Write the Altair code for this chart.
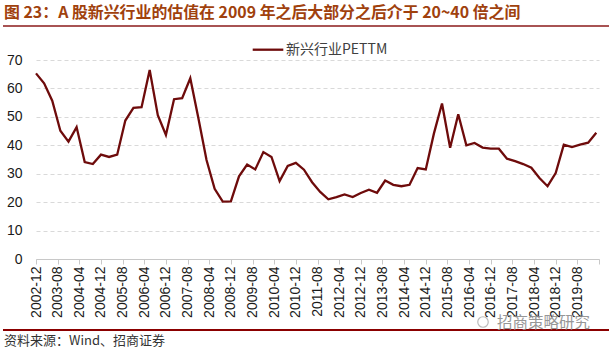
import altair as alt
import pandas as pd

# ---------------- data ----------------
# quarterly observations from 2002-12 to 2020-03
dates = [
    "2002-12",
    "2003-03", "2003-06", "2003-09", "2003-12",
    "2004-03", "2004-06", "2004-09", "2004-12",
    "2005-03", "2005-06", "2005-09", "2005-12",
    "2006-03", "2006-06", "2006-09", "2006-12",
    "2007-03", "2007-06", "2007-09", "2007-12",
    "2008-03", "2008-06", "2008-09", "2008-12",
    "2009-03", "2009-06", "2009-09", "2009-12",
    "2010-03", "2010-06", "2010-09", "2010-12",
    "2011-03", "2011-06", "2011-09", "2011-12",
    "2012-03", "2012-06", "2012-09", "2012-12",
    "2013-03", "2013-06", "2013-09", "2013-12",
    "2014-03", "2014-06", "2014-09", "2014-12",
    "2015-03", "2015-06", "2015-09", "2015-12",
    "2016-03", "2016-06", "2016-09", "2016-12",
    "2017-03", "2017-06", "2017-09", "2017-12",
    "2018-03", "2018-06", "2018-09", "2018-12",
    "2019-03", "2019-06", "2019-09", "2019-12",
    "2020-03",
]
pe_ttm = [
    65.3,
    61.8, 55.7, 45.1, 41.3,
    46.4, 34.1, 33.4, 36.7,
    35.9, 36.7, 48.7, 53.2,
    53.4, 66.5, 50.6, 43.6,
    56.2, 56.6, 63.6, 49.5,
    34.8, 24.7, 20.2, 20.3,
    29.1, 33.2, 31.5, 37.6,
    35.9, 27.4, 32.7, 33.8,
    31.4, 27.0, 23.6, 21.0,
    21.8, 22.7, 21.8, 23.2,
    24.4, 23.3, 27.6, 26.1,
    25.6, 26.1, 32.0, 31.5,
    44.1, 54.7, 39.1, 50.9,
    40.0, 40.8, 39.2, 38.8,
    38.8, 35.3, 34.4, 33.4,
    32.1, 28.5, 25.6, 30.2,
    40.2, 39.4, 40.2, 40.9,
    44.4,
]
tick_labels = [
    "2002-12", "2003-08", "2004-04", "2004-12", "2005-08", "2006-04",
    "2006-12", "2007-08", "2008-04", "2008-12", "2009-08", "2010-04",
    "2010-12", "2011-08", "2012-04", "2012-12", "2013-08", "2014-04",
    "2014-12", "2015-08", "2016-04", "2016-12", "2017-08", "2018-04",
    "2018-12", "2019-08",
]
y_ticks = [0, 10, 20, 30, 40, 50, 60, 70]

series_name = "新兴行业PETTM"
title_text = "图 23：A 股新兴行业的估值在 2009 年之后大部分之后介于 20~40 倍之间"
source_text = "资料来源：Wind、招商证券"
watermark_text = "招商策略研究"


def month_index(s):
    y, m = s.split("-")
    return (int(y) - 2002) * 12 + int(m) - 12


df = pd.DataFrame({"date": dates, "pe": pe_ttm})
df["m"] = [month_index(d) for d in dates]

tick_vals = [month_index(t) for t in tick_labels] + [208]
arr = "[" + ",".join(f"'{t}'" for t in tick_labels) + "]"
label_expr = f"datum.value <= 200 ? {arr}[round(datum.value / 8)] : ''"

FONT = "Liberation Sans, Arial, Noto Sans CJK SC"
CJK = "Noto Sans CJK SC, Liberation Sans"

# ---------------- chart ----------------
line = alt.Chart(df).mark_line(color="#6E0B0B", strokeWidth=2.3).encode(
    x=alt.X(
        "m:Q",
        scale=alt.Scale(domain=[0, 208], nice=False, zero=False),
        axis=alt.Axis(
            values=tick_vals,
            labelExpr=label_expr,
            labelAngle=-90,
            labelAlign="right",
            labelBaseline="middle",
            labelFont=FONT,
            labelFontSize=14,
            labelColor="#1a1a1a",
            labelPadding=2,
            labelOverlap=False,
            tickSize=5,
            tickColor="#c8c8c8",
            domainColor="#c8c8c8",
            grid=False,
            title=None,
        ),
    ),
    y=alt.Y(
        "pe:Q",
        scale=alt.Scale(domain=[0, 70], nice=False),
        axis=alt.Axis(
            values=y_ticks,
            grid=True,
            gridDash=[4, 3],
            gridColor="#d9d9d9",
            domain=False,
            ticks=False,
            labelFont=FONT,
            labelFontSize=14,
            labelColor="#1a1a1a",
            labelPadding=14,
            title=None,
        ),
    ),
)

one = pd.DataFrame({"t": [0]})

title = alt.Chart(pd.DataFrame({"t": [title_text]})).mark_text(
    align="left", baseline="middle", fontSize=15.9, fontWeight="bold",
    color="#A0410D", font=CJK,
).encode(x=alt.value(-32), y=alt.value(-47.5), text="t:N")

title_rule = alt.Chart(one).mark_rule(color="#8B1A1A", strokeWidth=1.5).encode(
    x=alt.value(-33), x2=alt.value(573), y=alt.value(-34)
)

legend_rule = alt.Chart(one).mark_rule(color="#6E0B0B", strokeWidth=2.3).encode(
    x=alt.value(216.7), x2=alt.value(247.3), y=alt.value(-10.3)
)
legend_text = alt.Chart(pd.DataFrame({"t": [series_name]})).mark_text(
    align="left", baseline="middle", fontSize=14, color="#404040", font=CJK,
).encode(x=alt.value(250), y=alt.value(-10.5), text="t:N")

bottom_rule = alt.Chart(one).mark_rule(color="#8B0000", strokeWidth=2).encode(
    x=alt.value(-33), x2=alt.value(573), y=alt.value(71 + 199)
)
source = alt.Chart(pd.DataFrame({"t": [source_text]})).mark_text(
    align="left", baseline="middle", fontSize=13, color="#333333", font=CJK,
).encode(x=alt.value(-32), y=alt.value(281), text="t:N")

watermark = alt.Chart(pd.DataFrame({"t": [watermark_text]})).mark_text(
    align="left", baseline="middle", fontSize=15.5, color="#8c8c8c", font=CJK,
    opacity=0.9,
).encode(x=alt.value(461), y=alt.value(64 + 199), text="t:N")
icon = alt.Chart(one).mark_point(
    shape="circle", size=110, filled=False, color="#a0a0a0", strokeWidth=1.2
).encode(x=alt.value(447), y=alt.value(63 + 199))

chart = alt.layer(
    line, title, title_rule, legend_rule, legend_text,
    bottom_rule, source, watermark, icon,
).properties(
    width=563,
    height=199,
    autosize=alt.AutoSizeParams(type="none"),
    padding={"left": 36, "top": 60, "right": 10, "bottom": 90},
    background="white",
).configure_view(stroke=None)

chart.save("out.html", embed_options={"renderer": "svg", "actions": False})
